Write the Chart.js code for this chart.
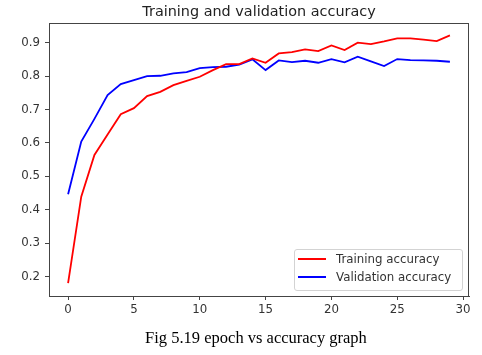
<!DOCTYPE html>
<html>
<head>
<meta charset="utf-8">
<script src="https://cdn.jsdelivr.net/npm/chart.js@4"></script>
<style>
  html, body { margin: 0; padding: 0; background: #fff; }
  #wrap { position: relative; width: 482px; height: 355px; overflow: hidden; }
  #c { position: absolute; left: 0; top: 0; }
  #title { position: absolute; left: 49px; width: 420px; top: 3px; text-align: center;
           font-family: "DejaVu Sans"; font-size: 14.4px; line-height: 16px; color: #222; }
  #legend { position: absolute; left: 294px; top: 249px; width: 167px; height: 40px;
            border: 1px solid #d3d3d3; border-radius: 3px; background: rgba(255,255,255,0.85);
            font-family: "DejaVu Sans"; font-size: 11.8px; color: #333; }
  .item { position: absolute; left: 0; height: 16px; line-height: 16px; width: 100%; }
  .swatch { position: absolute; left: 3px; top: 7px; width: 28px; height: 2px; }
  .lbl { position: absolute; left: 41px; top: 0; white-space: nowrap; }
  #caption { position: absolute; left: 0; width: 512px; top: 330px; text-align: center;
             font-family: "Liberation Serif", "Times New Roman", serif; font-size: 16.5px;
             line-height: 16.5px; color: #000; }
</style>
</head>
<body>
<div id="wrap">
  <canvas id="c" width="482" height="355"></canvas>
  <div id="title">Training and validation accuracy</div>
  <div id="legend"></div>
  <div id="caption">Fig 5.19 epoch vs accuracy graph</div>
</div>
<script>
const epochs = [0,1,2,3,4,5,6,7,8,9,10,11,12,13,14,15,16,17,18,19,20,21,22,23,24,25,26,27,28,29];
const trainingAccuracy = [0.180,0.439,0.564,0.625,0.686,0.704,0.740,0.753,0.773,0.786,0.798,0.818,0.836,0.836,0.853,0.840,0.868,0.872,0.880,0.875,0.892,0.878,0.900,0.896,0.904,0.913,0.913,0.909,0.905,0.922];
const validationAccuracy = [0.446,0.604,0.672,0.743,0.776,0.788,0.800,0.801,0.808,0.812,0.824,0.827,0.828,0.834,0.850,0.818,0.847,0.842,0.846,0.840,0.851,0.841,0.858,0.844,0.830,0.851,0.848,0.847,0.846,0.843];
const seriesLabels = ["Training accuracy", "Validation accuracy"];
const seriesColors = ["#ff0000", "#0000ff"];
const xTickValues = [0,5,10,15,20,25,30];
const yTickValues = [0.2,0.3,0.4,0.5,0.6,0.7,0.8,0.9];

const toPts = arr => arr.map((v, i) => ({x: epochs[i], y: v}));

const frame = {
  id: 'frame',
  afterDraw(chart) {
    const a = chart.chartArea, ctx = chart.ctx;
    ctx.save();
    ctx.strokeStyle = '#444';
    ctx.lineWidth = 1;
    ctx.strokeRect(Math.round(a.left) + 0.5, Math.round(a.top) + 0.5,
                   Math.round(a.right - a.left) - 1, Math.round(a.bottom - a.top));
    ctx.restore();
  }
};

new Chart(document.getElementById('c'), {
  type: 'line',
  data: {
    datasets: [
      { label: seriesLabels[0], data: toPts(trainingAccuracy), borderColor: seriesColors[0],
        borderWidth: 1.8, pointRadius: 0, tension: 0, fill: false },
      { label: seriesLabels[1], data: toPts(validationAccuracy), borderColor: seriesColors[1],
        borderWidth: 1.8, pointRadius: 0, tension: 0, fill: false }
    ]
  },
  options: {
    responsive: false,
    animation: false,
    devicePixelRatio: 1,
    layout: { padding: { top: 23, right: 13, left: 0, bottom: 35 } },
    plugins: { legend: { display: false }, tooltip: { enabled: false }, title: { display: false } },
    scales: {
      x: {
        type: 'linear', min: -1.45, max: 30.45,
        afterBuildTicks: s => { s.ticks = xTickValues.map(v => ({value: v})); },
        afterFit: s => { s.height = 24; },
        grid: { drawOnChartArea: false, drawTicks: true, tickLength: 4, tickColor: '#444' },
        border: { display: true, color: '#444', width: 1 },
        ticks: { color: '#333', padding: 3, font: { family: 'DejaVu Sans', size: 11.8 },
                 maxRotation: 0, autoSkip: false, callback: v => String(v) }
      },
      y: {
        type: 'linear', min: 0.1416, max: 0.959,
        afterBuildTicks: s => { s.ticks = yTickValues.map(v => ({value: v})); },
        afterFit: s => { s.width = 49; },
        grid: { drawOnChartArea: false, drawTicks: true, tickLength: 4, tickColor: '#444' },
        border: { display: true, color: '#444', width: 1 },
        ticks: { color: '#333', padding: 5, font: { family: 'DejaVu Sans', size: 11.8 },
                 autoSkip: false, callback: v => v.toFixed(1) }
      }
    }
  },
  plugins: [frame]
});

const lg = document.getElementById('legend');
seriesLabels.forEach((name, i) => {
  const it = document.createElement('div');
  it.className = 'item';
  it.style.top = (1 + i * 17.5) + 'px';
  it.innerHTML = '<div class="swatch" style="background:' + seriesColors[i] + '"></div><span class="lbl"></span>';
  it.querySelector('.lbl').textContent = name;
  lg.appendChild(it);
});
</script>
</body>
</html>
